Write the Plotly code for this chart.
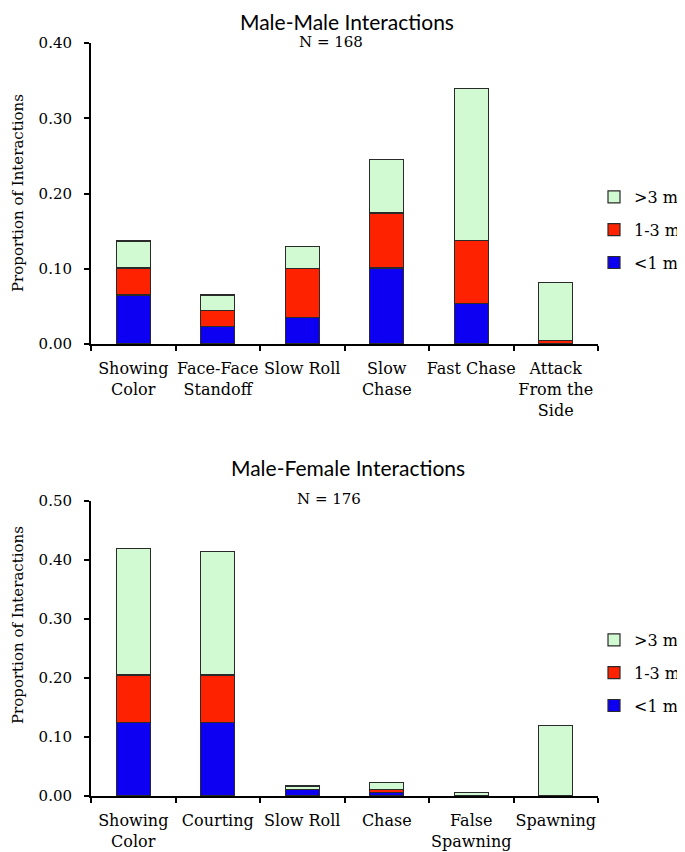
import plotly.graph_objects as go

# ---- data ----
mm_categories = ["Showing<br>Color", "Face-Face<br>Standoff", "Slow Roll", "Slow<br>Chase", "Fast Chase", "Attack<br>From the<br>Side"]
mm_lt1 = [0.065, 0.023, 0.035, 0.101, 0.054, 0.0]
mm_1to3 = [0.036, 0.022, 0.065, 0.073, 0.084, 0.005]
mm_gt3 = [0.036, 0.020, 0.030, 0.071, 0.202, 0.077]

mf_categories = ["Showing<br>Color", "Courting", "Slow Roll", "Chase", "False<br>Spawning", "Spawning"]
mf_lt1 = [0.125, 0.125, 0.011, 0.0057, 0.0, 0.0]
mf_1to3 = [0.080, 0.080, 0.0, 0.0057, 0.0, 0.0]
mf_gt3 = [0.215, 0.210, 0.006, 0.0114, 0.0065, 0.120]

series_names = ["<1 m", "1-3 m", ">3 m"]
series_colors = ["#0d00f2", "#ff2200", "#d2fad2"]
series_rank = [3, 2, 1]

# page has an 8px body margin; the figure is sized so it fits the 685x852 window
OFF = 8
W, H = 685 - OFF, 852 - OFF
serif = "DejaVu Serif"
sans = "Lato"

fig = go.Figure()

def add_panel(cats, vals, xa, ya, legend):
    for name, color, rank, v in zip(series_names, series_colors, series_rank, vals):
        fig.add_trace(go.Bar(
            x=cats, y=[val if val > 0 else None for val in v], name=name,
            xaxis=xa, yaxis=ya, legend=legend,
            legendgroup=legend + name, legendrank=rank,
            marker=dict(color=color, line=dict(color="#2a2a2a", width=1.2)),
            width=0.4,
        ))

add_panel(mm_categories, [mm_lt1, mm_1to3, mm_gt3], "x", "y", "legend")
add_panel(mf_categories, [mf_lt1, mf_1to3, mf_gt3], "x2", "y2", "legend2")

def py(p):
    return 1 - (p - OFF) / H

def pxx(p):
    return (p - OFF) / W

xdom = [pxx(91), pxx(598)]
axis_common = dict(showline=True, linecolor="black", linewidth=2, ticks="outside",
                   tickcolor="black", tickwidth=1.5, showgrid=False, zeroline=False,
                   automargin=False)
xaxis_common = dict(tickson="boundaries", ticklen=5, tickangle=0, ticklabelstandoff=9,
                    tickfont=dict(family=serif, size=16, color="black"), **axis_common)
yaxis_common = dict(dtick=0.1, tickformat=".2f", ticklen=5, ticklabelstandoff=9,
                    tickfont=dict(family=serif, size=15, color="black"), **axis_common)

legend_common = dict(xanchor="left", yanchor="middle", traceorder="grouped", tracegroupgap=9,
                     font=dict(family=serif, size=16, color="black"), bgcolor="rgba(0,0,0,0)")

fig.update_layout(
    template="none",
    width=W, height=H,
    margin=dict(l=0, r=0, t=0, b=0, autoexpand=False),
    paper_bgcolor="white", plot_bgcolor="white",
    barmode="stack",
    showlegend=True,
    xaxis=dict(domain=xdom, anchor="y", **xaxis_common),
    yaxis=dict(domain=[py(344), py(43)], anchor="x", range=[0, 0.40], **yaxis_common),
    xaxis2=dict(domain=xdom, anchor="y2", **xaxis_common),
    yaxis2=dict(domain=[py(796), py(501)], anchor="x2", range=[0, 0.50], **yaxis_common),
    legend=dict(x=pxx(594), y=py(230), **legend_common),
    legend2=dict(x=pxx(594), y=py(673), **legend_common),
)

annos = [
    dict(text="Male-Male Interactions", x=pxx(347), y=1.0, yanchor="top", borderpad=0,
         font=dict(family=sans, size=21, color="black")),
    dict(text="N = 168", x=pxx(331), y=py(42), yanchor="middle", font=dict(family=serif, size=15, color="black")),
    dict(text="Male-Female Interactions", x=pxx(348), y=py(468), yanchor="middle",
         font=dict(family=sans, size=21, color="black")),
    dict(text="N = 176", x=pxx(329), y=py(499), yanchor="middle", font=dict(family=serif, size=15, color="black")),
    dict(text="Proportion of Interactions", x=pxx(18), y=py(193), yanchor="middle", textangle=-90,
         font=dict(family=serif, size=15, color="black")),
    dict(text="Proportion of Interactions", x=pxx(18), y=py(625), yanchor="middle", textangle=-90,
         font=dict(family=serif, size=15, color="black")),
]
for a in annos:
    fig.add_annotation(xref="paper", yref="paper", showarrow=False,
                       xanchor="center", **a)

fig.write_html("out.html")
